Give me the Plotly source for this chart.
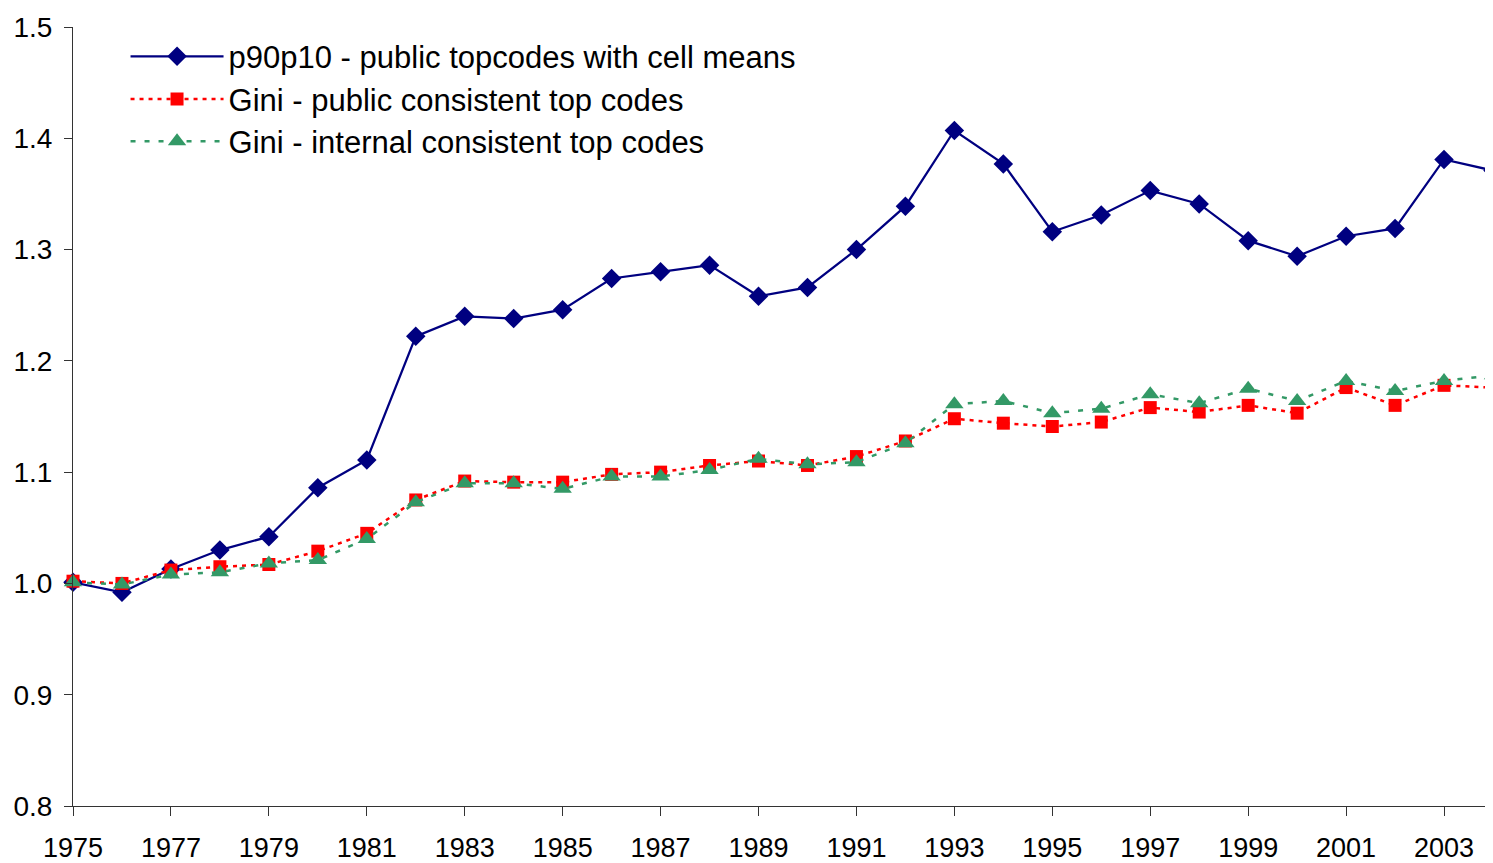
import plotly.graph_objects as go

years = list(range(1975, 2005))

p90p10_public = [1.001, 0.992, 1.013, 1.030, 1.042, 1.086, 1.111, 1.222, 1.240, 1.238,
                 1.246, 1.274, 1.280, 1.286, 1.258, 1.266, 1.300, 1.339, 1.407, 1.377,
                 1.316, 1.331, 1.353, 1.341, 1.308, 1.294, 1.312, 1.319, 1.381, 1.371]

gini_public = [1.002, 1.000, 1.012, 1.015, 1.017, 1.029, 1.045, 1.075, 1.092, 1.091,
               1.091, 1.098, 1.100, 1.106, 1.110, 1.106, 1.114, 1.128, 1.148, 1.144,
               1.141, 1.145, 1.158, 1.154, 1.160, 1.153, 1.176, 1.160, 1.178, 1.176]

gini_internal = [1.001, 0.999, 1.008, 1.010, 1.018, 1.021, 1.040, 1.073, 1.090, 1.090,
                 1.085, 1.096, 1.096, 1.102, 1.112, 1.107, 1.109, 1.126, 1.161, 1.164,
                 1.153, 1.157, 1.170, 1.162, 1.175, 1.164, 1.182, 1.173, 1.182, 1.187]

names = ["p90p10 - public topcodes with cell means",
         "Gini - public consistent top codes",
         "Gini - internal consistent top codes"]

FONT = "Arial, Liberation Sans, sans-serif"

fig = go.Figure()
fig.add_trace(go.Scatter(
    x=years, y=p90p10_public, name=names[0], mode="lines+markers",
    line=dict(color="#000080", width=2.25),
    marker=dict(symbol="diamond", size=15, color="#000080"),
    cliponaxis=False, legend="legend"))
fig.add_trace(go.Scatter(
    x=years, y=gini_public, name=names[1], mode="lines+markers",
    line=dict(color="#FF0000", width=2.5, dash="4px,5px"),
    marker=dict(symbol="square", size=13, color="#FF0000"),
    cliponaxis=False, legend="legend2"))
fig.add_trace(go.Scatter(
    x=years, y=gini_internal, name=names[2], mode="lines+markers",
    line=dict(color="#339966", width=2.5, dash="5px,9px"),
    marker=dict(symbol="triangle-up", size=16, color="#339966"),
    cliponaxis=False, legend="legend3"))

legfont = dict(family=FONT, size=31, color="black")
common = dict(xanchor="left", yanchor="middle", x=0.037, font=legfont,
              bgcolor="rgba(0,0,0,0)", itemwidth=93, borderwidth=0)
fig.update_layout(
    showlegend=True,
    legend=dict(y=0.962, **common),
    legend2=dict(y=0.907, **common),
    legend3=dict(y=0.853, **common),
)

axcol = "#333333"
fig.update_layout(
    width=1485, height=855,
    margin=dict(l=65, r=0, t=19, b=54),
    paper_bgcolor="white", plot_bgcolor="white",
    xaxis=dict(range=[1975, 2004], tick0=1975, dtick=2, ticks="outside", ticklen=9,
               tickwidth=1, tickcolor=axcol, showline=True, linecolor=axcol, linewidth=1,
               showgrid=False, zeroline=False, ticklabelstandoff=9,
               tickfont=dict(family=FONT, size=27, color="black")),
    xaxis2=dict(range=[1975, 2004], overlaying="x", anchor="y", tick0=1975, dtick=1,
                ticks="inside", ticklen=7, tickwidth=1, tickcolor=axcol,
                showticklabels=False, showline=False, showgrid=False, zeroline=False),
    yaxis=dict(range=[0.8, 1.5], dtick=0.1, tickformat=".1f", ticks="outside", ticklen=8,
               tickwidth=1, tickcolor=axcol, showline=True, linecolor=axcol, linewidth=1,
               showgrid=False, zeroline=False, ticklabelstandoff=6,
               tickfont=dict(family=FONT, size=28, color="black")),
)

fig.write_html("out.html")
